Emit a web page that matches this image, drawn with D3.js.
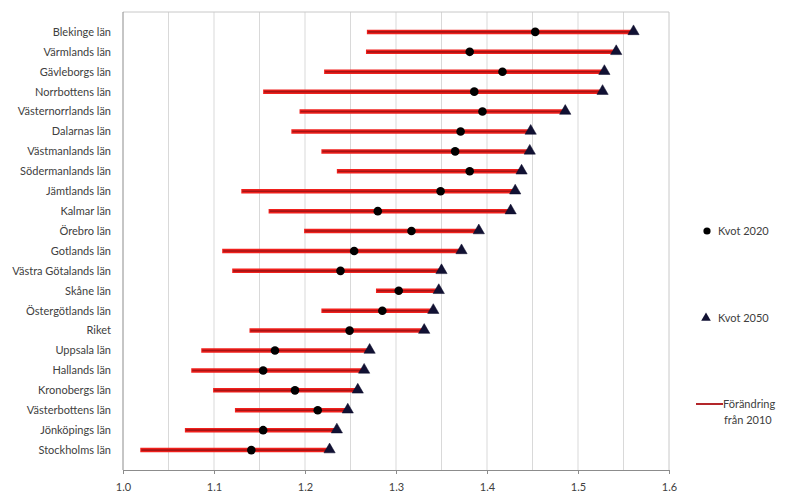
<!DOCTYPE html>
<html>
<head>
<meta charset="utf-8">
<script src="https://cdn.jsdelivr.net/npm/d3@7"></script>
<style>
  body { margin: 0; background: #fff; }
  text { font-family: Lato, "Open Sans", sans-serif; fill: #404040; }
</style>
</head>
<body>
<svg id="chart" width="787" height="493"></svg>
<script>
// regions, bottom to top as drawn (Stockholm at the bottom)
var regions = ["Stockholms län", "Jönköpings län", "Västerbottens län", "Kronobergs län",
    "Hallands län", "Uppsala län", "Riket", "Östergötlands län", "Skåne län",
    "Västra Götalands län", "Gotlands län", "Örebro län", "Kalmar län", "Jämtlands län",
    "Södermanlands län", "Västmanlands län", "Dalarnas län", "Västernorrlands län",
    "Norrbottens län", "Gävleborgs län", "Värmlands län", "Blekinge län"];
var kvot2010 = [1.019, 1.068, 1.123, 1.099, 1.075, 1.086, 1.139, 1.218, 1.278, 1.120, 1.109,
    1.199, 1.160, 1.130, 1.235, 1.218, 1.185, 1.194, 1.154, 1.221, 1.267, 1.268];
var kvot2020 = [1.141, 1.154, 1.214, 1.189, 1.154, 1.167, 1.249, 1.285, 1.303, 1.239, 1.254,
    1.317, 1.280, 1.349, 1.381, 1.365, 1.371, 1.395, 1.386, 1.417, 1.381, 1.453];
var kvot2050 = [1.227, 1.235, 1.247, 1.258, 1.265, 1.271, 1.331, 1.341, 1.347, 1.350, 1.372,
    1.391, 1.426, 1.431, 1.438, 1.447, 1.448, 1.486, 1.527, 1.529, 1.542, 1.561];
var xTicks = [1.0, 1.1, 1.2, 1.3, 1.4, 1.5, 1.6];
var xGrid = [1.05, 1.1, 1.15, 1.2, 1.25, 1.3, 1.35, 1.4, 1.45, 1.5, 1.55];

var svg = d3.select("#chart");
var plotLeft = 123, plotRight = 669, plotTop = 12, plotBottom = 470;

var x = d3.scaleLinear().domain([1.0, 1.6]).range([plotLeft, plotRight]);
var y = d3.scaleLinear().domain([0, 23]).range([plotBottom, plotTop]);

var rows = regions.map(function (r, i) {
    return { name: r, pos: i + 1, a: kvot2010[i], b: kvot2020[i], c: kvot2050[i] };
});

// plot frame + gridlines
svg.append("g").selectAll("line").data(xGrid).enter().append("line")
    .attr("x1", function (d) { return x(d); }).attr("x2", function (d) { return x(d); })
    .attr("y1", plotTop).attr("y2", plotBottom)
    .attr("stroke", "#d9d9d9").attr("stroke-width", 1);
svg.append("line").attr("x1", plotLeft).attr("x2", plotRight).attr("y1", plotTop).attr("y2", plotTop)
    .attr("stroke", "#c8c8c8");
svg.append("line").attr("x1", plotRight).attr("x2", plotRight).attr("y1", plotTop).attr("y2", plotBottom)
    .attr("stroke", "#c8c8c8");
svg.append("line").attr("x1", plotLeft).attr("x2", plotLeft).attr("y1", plotTop).attr("y2", plotBottom)
    .attr("stroke", "#8c8c8c");

// x axis
var xAxis = d3.axisBottom(x).tickValues(xTicks).tickFormat(d3.format(".1f"))
    .tickSizeInner(4).tickSizeOuter(0);
var gx = svg.append("g").attr("transform", "translate(0," + plotBottom + ")").call(xAxis);
gx.select(".domain").attr("stroke", "#8c8c8c");
gx.selectAll(".tick line").attr("stroke", "#8c8c8c");
gx.selectAll(".tick text").attr("dy", "1.3em").style("font-size", "11px")
    .style("font-family", "Lato, sans-serif").attr("fill", "#404040");

// category labels
svg.append("g").selectAll("text").data(rows).enter().append("text")
    .attr("x", 111).attr("y", function (d) { return y(d.pos); })
    .attr("dy", "0.35em").attr("text-anchor", "end").style("font-size", "11px")
    .text(function (d) { return d.name; });

// change lines 2010 -> 2050
var lines = svg.append("g");
lines.selectAll("line.outer").data(rows).enter().append("line").attr("class", "outer")
    .attr("x1", function (d) { return x(d.a); }).attr("x2", function (d) { return x(d.c); })
    .attr("y1", function (d) { return y(d.pos); }).attr("y2", function (d) { return y(d.pos); })
    .attr("stroke", "#f0201c").attr("stroke-width", 4.5);
lines.selectAll("line.inner").data(rows).enter().append("line").attr("class", "inner")
    .attr("x1", function (d) { return x(d.a) + 1; }).attr("x2", function (d) { return x(d.c); })
    .attr("y1", function (d) { return y(d.pos); }).attr("y2", function (d) { return y(d.pos); })
    .attr("stroke", "#8a0f12").attr("stroke-width", 1.6).attr("opacity", 0.7);

// markers
var tri = d3.symbol().type(d3.symbolTriangle).size(55);
svg.append("g").selectAll("path").data(rows).enter().append("path")
    .attr("d", tri)
    .attr("transform", function (d) { return "translate(" + x(d.c) + "," + (y(d.pos) - 0.5) + ")"; })
    .attr("fill", "#111133").attr("stroke", "#0a0a2a").attr("stroke-width", 0.5);
svg.append("g").selectAll("circle").data(rows).enter().append("circle")
    .attr("cx", function (d) { return x(d.b); }).attr("cy", function (d) { return y(d.pos); })
    .attr("r", 4.3).attr("fill", "#000");

// legend
var lg = svg.append("g").style("font-size", "11px");
lg.append("circle").attr("cx", 707).attr("cy", 231).attr("r", 3.6).attr("fill", "#000");
lg.append("text").attr("x", 718).attr("y", 231).attr("dy", "0.35em").text("Kvot 2020");
lg.append("path").attr("d", d3.symbol().type(d3.symbolTriangle).size(40))
    .attr("transform", "translate(706,318)").attr("fill", "#111133");
lg.append("text").attr("x", 718).attr("y", 318).attr("dy", "0.35em").text("Kvot 2050");
lg.append("line").attr("x1", 696).attr("x2", 723).attr("y1", 404).attr("y2", 404)
    .attr("stroke", "#b3262a").attr("stroke-width", 2);
lg.append("text").attr("x", 723).attr("y", 404).attr("dy", "0.35em").text("Förändring");
lg.append("text").attr("x", 724).attr("y", 420).attr("dy", "0.35em").text("från 2010");
</script>
</body>
</html>
